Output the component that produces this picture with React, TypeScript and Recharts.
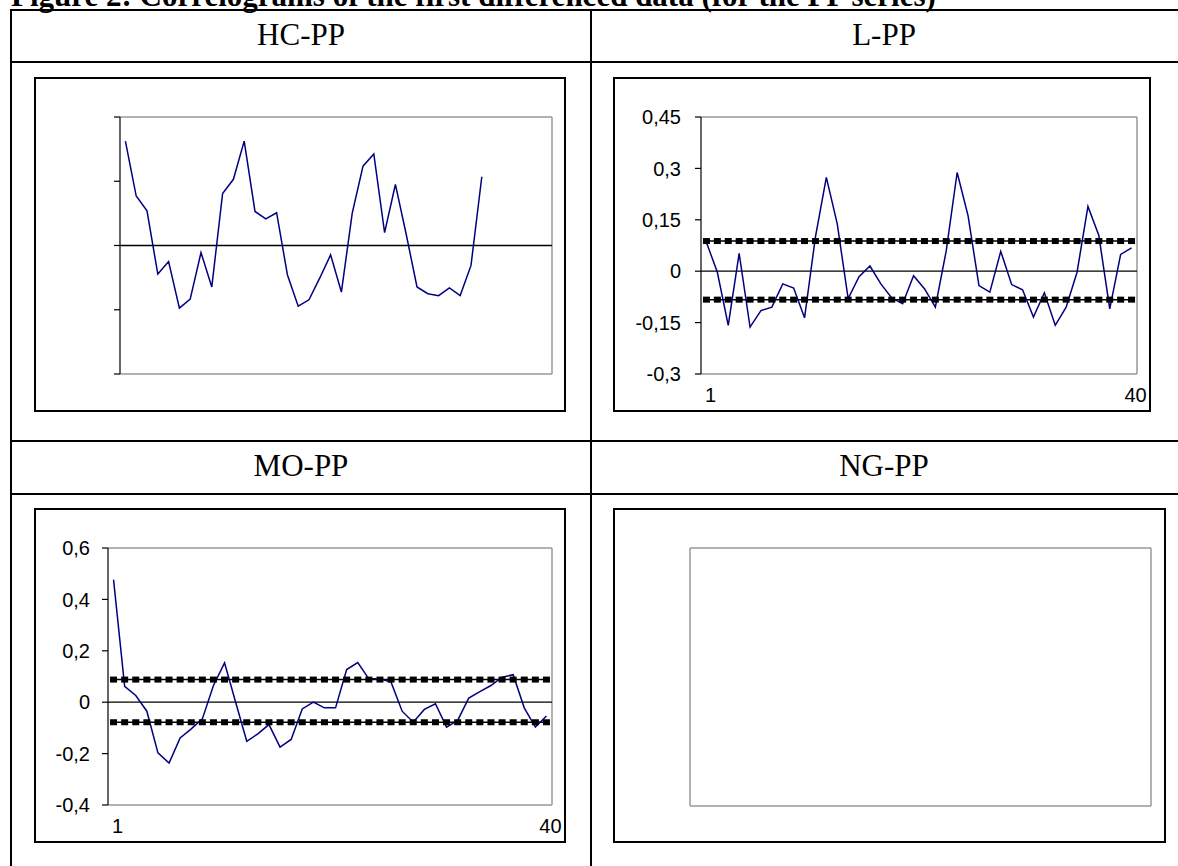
import React from 'react';
import { LineChart, Line, XAxis, YAxis, ReferenceLine } from 'recharts';

// lags of the correlogram
const lags = [
  1, 2, 3, 4, 5, 6, 7, 8, 9, 10, 11, 12, 13, 14, 15, 16, 17, 18, 19, 20,
  21, 22, 23, 24, 25, 26, 27, 28, 29, 30, 31, 32, 33, 34, 35, 36, 37, 38, 39, 40,
];
const xTicks = [1, 40];

// HC-PP (no tick labels in the original, only 34 lags drawn)
const hcPP = [
  0.325, 0.154, 0.108, -0.089, -0.05, -0.195, -0.167, -0.022, -0.129, 0.162,
  0.206, 0.325, 0.106, 0.083, 0.102, -0.091, -0.189, -0.169, -0.101, -0.029,
  -0.145, 0.1, 0.247, 0.285, 0.04, 0.19, 0.035, -0.129, -0.15, -0.156,
  -0.132, -0.156, -0.062, 0.214,
];
const hcTicks = [-0.4, -0.2, 0, 0.2, 0.4];

// L-PP
const lPP = [
  0.084, -0.003, -0.158, 0.052, -0.163, -0.115, -0.105, -0.037, -0.049, -0.136,
  0.1, 0.274, 0.138, -0.08, -0.016, 0.015, -0.037, -0.078, -0.095, -0.013,
  -0.051, -0.105, 0.06, 0.288, 0.162, -0.042, -0.061, 0.058, -0.039, -0.054,
  -0.134, -0.063, -0.158, -0.105, -0.003, 0.189, 0.104, -0.11, 0.049, 0.068,
];
const lUpper = 0.088;
const lLower = -0.083;
const lTicks = [-0.3, -0.15, 0, 0.15, 0.3, 0.45];

// MO-PP
const moPP = [
  0.477, 0.062, 0.026, -0.035, -0.197, -0.237, -0.139, -0.104, -0.065, 0.065,
  0.153, 0.0, -0.152, -0.123, -0.087, -0.175, -0.145, -0.026, 0.0, -0.022,
  -0.022, 0.127, 0.154, 0.091, 0.091, 0.078, -0.035, -0.078, -0.028, -0.006,
  -0.097, -0.071, 0.016, 0.041, 0.065, 0.097, 0.107, -0.022, -0.097, -0.054,
];
const moUpper = 0.088;
const moLower = -0.078;
const moTicks = [-0.4, -0.2, 0, 0.2, 0.4, 0.6];

// NG-PP is an empty plot
const ngTicks = [-0.4, 0.6];

const buildRows = (values: number[], upper?: number, lower?: number) =>
  lags.map((lag, i) => ({
    lag,
    value: i < values.length ? values[i] : null,
    upper: upper ?? null,
    lower: lower ?? null,
  }));

const tickFont = { fontSize: 20, fontFamily: 'Liberation Sans, Arial, sans-serif', fill: '#000' };
const fmt = (v: number) => String(v).replace('.', ',');

const renderSquare = (p: any) => {
  if (p.cx == null || p.cy == null) return <g key={p.index} />;
  return <rect key={p.index} x={p.cx - 3.5} y={p.cy - 3} width={7} height={6} fill="#000" />;
};

interface CorrProps {
  width: number;
  height: number;
  left: number;
  right: number;
  top: number;
  bottom: number;
  rows: any[];
  ticks: number[];
  labels?: boolean;
  bands?: boolean;
  empty?: boolean;
  tickMargin?: number;
}

function Correlogram({ width, height, left, right, top, bottom, rows, ticks, labels, bands, empty, tickMargin = 14 }: CorrProps) {
  const lo = ticks[0];
  const hi = ticks[ticks.length - 1];
  return (
    <LineChart width={width} height={height} data={rows} margin={{ top, right, left: 0, bottom: 0 }}>
      <XAxis
        type="number"
        dataKey="lag"
        domain={[0.5, 40.5]}
        ticks={xTicks}
        interval={0}
        allowDataOverflow
        axisLine={false}
        tickLine={false}
        tickSize={0}
        tickMargin={14}
        height={bottom}
        tick={labels ? { ...tickFont, dx: 4 } : false}
      />
      <YAxis
        type="number"
        domain={[lo, hi]}
        ticks={ticks}
        interval={0}
        allowDataOverflow
        width={left}
        axisLine={empty ? false : { stroke: '#000', strokeWidth: 1.2 }}
        tickLine={empty ? false : { stroke: '#000', strokeWidth: 1.2 }}
        tickSize={6}
        tickMargin={tickMargin}
        tick={empty ? false : tickFont}
        tickFormatter={labels ? fmt : () => ''}
      />
      <ReferenceLine y={hi} stroke="#999" strokeWidth={1.5} />
      <ReferenceLine y={lo} stroke="#999" strokeWidth={1.5} />
      <ReferenceLine x={40.5} stroke="#999" strokeWidth={1.5} />
      {empty && <ReferenceLine x={0.5} stroke="#999" strokeWidth={1.5} />}
      {!empty && <ReferenceLine y={0} stroke="#000" strokeWidth={1.3} />}
      {bands && (
        <Line dataKey="upper" stroke="#000" strokeWidth={1.5} dot={renderSquare} isAnimationActive={false} />
      )}
      {bands && (
        <Line dataKey="lower" stroke="#000" strokeWidth={1.5} dot={renderSquare} isAnimationActive={false} />
      )}
      {!empty && (
        <Line
          type="linear"
          dataKey="value"
          stroke="#000080"
          strokeWidth={1.5}
          dot={false}
          isAnimationActive={false}
        />
      )}
    </LineChart>
  );
}

const serif = 'Liberation Serif, "Times New Roman", serif';

const rule = (left: number, top: number, width: number, height: number) => (
  <div style={{ position: 'absolute', left, top, width, height, background: '#000' }} />
);

const box = (left: number, top: number, width: number, height: number, child: React.ReactNode) => (
  <div
    style={{
      position: 'absolute',
      left,
      top,
      width,
      height,
      boxSizing: 'border-box',
      border: '2px solid #000',
      background: '#fff',
    }}
  >
    {child}
  </div>
);

const header = (text: string, center: number, top: number) => (
  <div
    style={{
      position: 'absolute',
      left: center - 150,
      width: 300,
      top,
      textAlign: 'center',
      fontFamily: serif,
      fontSize: 31,
      lineHeight: '31px',
    }}
  >
    {text}
  </div>
);

export default function App() {
  return (
    <div style={{ position: 'absolute', left: 0, top: 0, width: 1178, height: 866, overflow: 'hidden', background: '#fff' }}>
      <div
        style={{
          position: 'absolute',
          left: 11,
          top: -20,
          whiteSpace: 'nowrap',
          fontFamily: serif,
          fontWeight: 'bold',
          fontSize: 31,
          lineHeight: '31px',
        }}
      >
        Figure 2: Correlograms of the first differenced data (for the PP series)
      </div>

      {rule(10, 9, 1180, 2)}
      {rule(10, 9, 2, 870)}
      {rule(590, 9, 2, 870)}
      {rule(10, 61, 1180, 2)}
      {rule(10, 440, 1180, 2)}
      {rule(10, 493, 1180, 2)}

      {header('HC-PP', 301, 19)}
      {header('L-PP', 884, 19)}
      {header('MO-PP', 301, 450)}
      {header('NG-PP', 884, 450)}

      {box(34, 77, 532, 335,
        <Correlogram width={528} height={331} left={84} right={12} top={38} bottom={36}
          rows={buildRows(hcPP)} ticks={hcTicks} />
      )}
      {box(613, 77, 538, 335,
        <Correlogram width={534} height={331} left={86} right={12} top={38} bottom={36}
          rows={buildRows(lPP, lUpper, lLower)} ticks={lTicks} labels bands tickMargin={14} />
      )}
      {box(34, 508, 532, 335,
        <Correlogram width={528} height={331} left={72} right={12} top={38} bottom={36}
          rows={buildRows(moPP, moUpper, moLower)} ticks={moTicks} labels bands tickMargin={12} />
      )}
      {box(613, 508, 553, 335,
        <Correlogram width={549} height={331} left={75} right={13} top={38} bottom={35}
          rows={buildRows([])} ticks={ngTicks} empty />
      )}
    </div>
  );
}
